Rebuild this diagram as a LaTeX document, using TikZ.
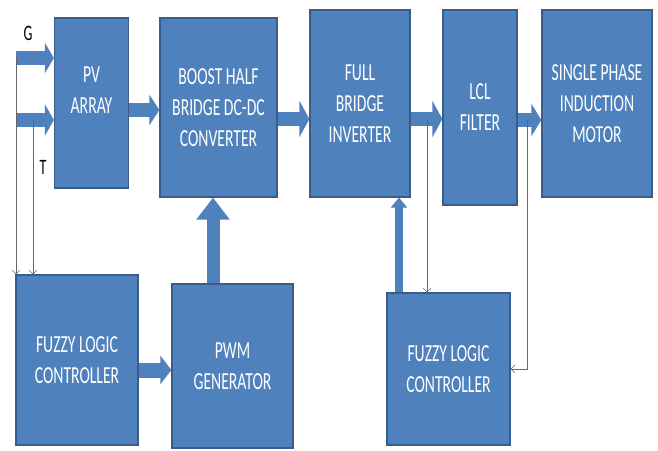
\documentclass[tikz,border=0pt]{standalone}
\usepackage{fontspec}
\setmainfont{Carlito}[FakeStretch=0.64]
\usetikzlibrary{arrows.meta}
\definecolor{boxblue}{HTML}{4F81BD}
\definecolor{edgeblue}{HTML}{385D8A}
\tikzstyle{block} = [draw=edgeblue, fill=boxblue, line width=1.2pt, text=white, align=center, inner sep=0pt, font={\fontsize{24.5}{31}\selectfont}]
\tikzstyle{fat} = [draw=boxblue, line width=14pt, -{Triangle[length=10pt,width=30pt]}]
\tikzstyle{sense} = [draw=black!60, line width=0.6pt, -{Straight Barb[length=4pt,width=8pt]}]
\tikzstyle{sig} = [font={\fontsize{22}{24}\selectfont}, inner sep=0pt]

\begin{document}
\begin{tikzpicture}[x=1pt,y=-1pt]
    \useasboundingbox (0,0) rectangle (658,450);
    \node[block,minimum width=74pt,minimum height=170pt](pv) at (91.5,103){PV\\ARRAY\\[-5pt]\mbox{}};
    \node[block,minimum width=117pt,minimum height=179pt](boost) at (218.5,107.5){BOOST HALF\\BRIDGE DC-DC\\CONVERTER};
    \node[block,minimum width=100pt,minimum height=187pt](inv) at (360,103.5){FULL\\BRIDGE\\INVERTER};
    \node[block,minimum width=74pt,minimum height=195pt](lcl) at (480,107.5){LCL\\FILTER};
    \node[block,minimum width=110pt,minimum height=187pt](motor) at (597,103.5){SINGLE PHASE\\INDUCTION\\MOTOR};
    \node[block,minimum width=122pt,minimum height=170pt](flc1) at (77,360){FUZZY LOGIC\\CONTROLLER};
    \node[block,minimum width=121pt,minimum height=164pt](pwm) at (232.5,366){PWM\\GENERATOR};
    \node[block,minimum width=123pt,minimum height=152pt](flc2) at (448.5,369){FUZZY LOGIC\\CONTROLLER};
    \node[sig](glab) at (28,33){G};
    \node[sig](tlab) at (43,167){T};
    \coordinate (g) at (16,58);
    \coordinate (t) at (16,120);
    \coordinate (tb) at (33,120);
    \coordinate (vb) at (427,119);
    \coordinate (mb) at (527,120);
    \draw[fat,-{Triangle[length=9pt,width=30pt]}](g)--(g -| pv.west);
    \draw[fat,-{Triangle[length=9pt,width=31pt]}](t)--(t -| pv.west);
    \draw[fat]([yshift=-7pt]pv.east)--([yshift=-7pt]pv.east -| boost.west);
    \draw[fat,-{Triangle[length=10pt,width=36pt]}]([yshift=-11.5pt]boost.east)--([yshift=-11.5pt]boost.east -| inv.west);
    \draw[fat,-{Triangle[length=10pt,width=36pt]}]([yshift=-15.5pt]inv.east)--([yshift=-15.5pt]inv.east -| lcl.west);
    \draw[fat,-{Triangle[length=10pt,width=32pt]}]([yshift=-12.5pt]lcl.east)--([yshift=-12.5pt]lcl.east -| motor.west);
    \draw[fat,line width=13pt,-{Triangle[length=22pt,width=32pt]}]([xshift=-19.5pt]pwm.north)--([xshift=-19.5pt]pwm.north |- boost.south);
    \draw[fat,line width=15pt,-{Triangle[length=11pt,width=28pt]}]([yshift=-10pt]flc1.east)--([yshift=-10pt]flc1.east -| pwm.west);
    \draw[fat,line width=8pt,-{Triangle[length=10pt,width=16pt]}]([xshift=-49.5pt]flc2.north)--([xshift=-49.5pt]flc2.north |- inv.south);
    \draw[sense](g)--(g |- flc1.north);
    \draw[sense](tb)--(tb |- flc1.north);
    \draw[sense](vb)--(vb |- flc2.north);
    \draw[sense](mb)|-(flc2.east);
\end{tikzpicture}
\end{document}
